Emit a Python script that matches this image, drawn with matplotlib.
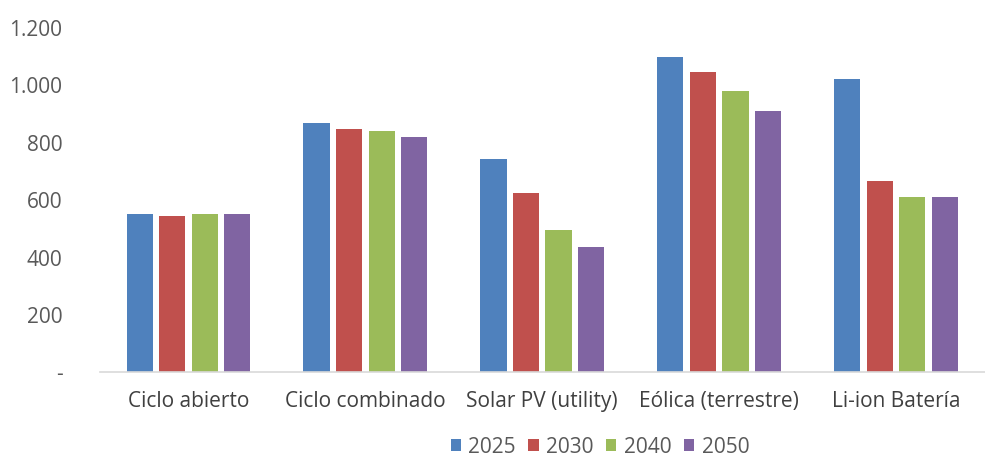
import numpy as np
import matplotlib.pyplot as plt
from matplotlib.ticker import FuncFormatter

plt.rcParams['font.family'] = ['Open Sans', 'DejaVu Sans']

categories = ['Ciclo abierto', 'Ciclo combinado', 'Solar PV (utility)',
              'Eólica (terrestre)', 'Li-ion Batería']
years = ['2025', '2030', '2040', '2050']
v2025 = [550, 869, 744, 1097, 1021]
v2030 = [543, 848, 625, 1044, 667]
v2040 = [550, 841, 495, 980, 612]
v2050 = [550, 821, 438, 911, 612]
series = [v2025, v2030, v2040, v2050]
colors = ['#4F81BD', '#C0504D', '#9BBB59', '#8064A2']

fig = plt.figure(figsize=(9.85, 4.61), dpi=100)
ax = fig.add_axes([0.1015, 0.192, 0.898, 0.748])

x = np.arange(len(categories))
step = 0.184
for i, (vals, col, yr) in enumerate(zip(series, colors, years)):
    ax.bar(x + (i - 1.5) * step, vals, width=0.148, color=col,
           label=yr, zorder=2)

ax.set_xlim(-0.5, len(categories) - 0.5)
ax.set_ylim(0, 1200)
ax.set_yticks(range(0, 1201, 200))


def fmt(v, pos):
    if v == 0:
        return '-'
    return f'{int(v):,}'.replace(',', '.')


ax.yaxis.set_major_formatter(FuncFormatter(fmt))
ax.set_xticks(x)
ax.set_xticklabels(categories)

for s in ['top', 'right', 'left']:
    ax.spines[s].set_visible(False)
ax.spines['bottom'].set_color('#D9D9D9')
ax.spines['bottom'].set_linewidth(1.2)
ax.tick_params(axis='both', length=0, labelsize=15, colors='#595959')
ax.tick_params(axis='y', pad=27)
ax.tick_params(axis='x', pad=13)
for lbl in ax.get_xticklabels():
    lbl.set_color('#404040')

fig.legend(loc='center', bbox_to_anchor=(0.609, 0.03), ncol=4, frameon=False,
           fontsize=15, handlelength=0.5, handleheight=0.5,
           handletextpad=0.35, columnspacing=0.6, labelcolor='#595959',
           borderpad=0.1)

fig.savefig('out.png', dpi=100)
